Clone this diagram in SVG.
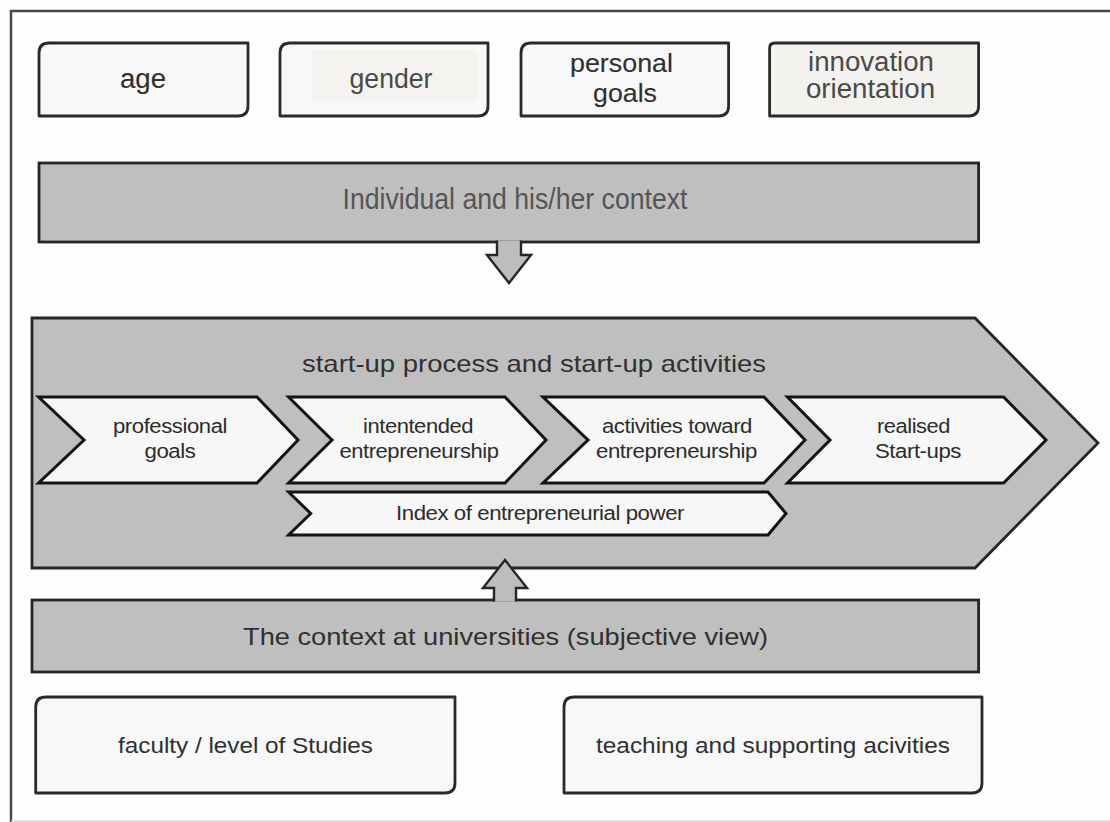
<svg xmlns="http://www.w3.org/2000/svg" width="1110" height="822" viewBox="0 0 1110 822">
  <style>
    .box { fill: #f8f8f8; stroke: #2a2a2a; stroke-width: 2.8; stroke-linejoin: round; }
    .bar { fill: #bfbfbf; stroke: #262626; stroke-width: 2.8; }
    .chev { fill: #f7f7f7; stroke: #141414; stroke-width: 3; stroke-linejoin: miter; }
    .arrow { fill: #bdbdbd; stroke: #262626; stroke-width: 2.4; stroke-linejoin: miter; }
    .t { font-family: "Liberation Sans", Arial, sans-serif; text-anchor: middle; fill: #303030; }
    .n { font-family: "Liberation Sans Narrow", "Liberation Sans", Arial, sans-serif; text-anchor: middle; fill: #4a4a4a; }
    .s { font-family: "Liberation Sans", Arial, sans-serif; text-anchor: middle; fill: #2c2c2c; font-size: 20px; letter-spacing: -0.4px; }
    .heavy { stroke: #3a3a3a; stroke-width: 0.15; }
  </style>

  <rect x="0" y="0" width="1110" height="822" fill="#fefefe"/>

  <!-- outer frame: left and top edges -->
  <path d="M11,822 V11 H1110" fill="none" stroke="#4a4a4a" stroke-width="2.5"/>
  <line x1="11" y1="821" x2="1110" y2="821" stroke="#d4d4d4" stroke-width="1.5"/>

  <!-- top row of factors -->
  <g id="age">
    <path class="box" d="M49,43 H248 V106 Q248,116 238,116 H39 V53 Q39,43 49,43 Z"/>
    <text class="t heavy" x="143" y="88" font-size="27" textLength="46" lengthAdjust="spacingAndGlyphs">age</text>
  </g>
  <g id="gender">
    <path class="box" d="M290,43 H488 V106 Q488,116 478,116 H280 V53 Q280,43 290,43 Z"/>
    <rect x="312" y="50" width="165" height="51" fill="#f4f3ef"/>
    <text class="n" x="391" y="88" font-size="28" textLength="83" lengthAdjust="spacingAndGlyphs">gender</text>
  </g>
  <g id="personal-goals">
    <path class="box" d="M531,43 H728.6 V106 Q728.6,116 718.6,116 H521 V53 Q521,43 531,43 Z"/>
    <text class="t heavy" x="621.5" y="72" font-size="26" textLength="103" lengthAdjust="spacingAndGlyphs">personal</text>
    <text class="t heavy" x="625" y="102" font-size="26" textLength="64" lengthAdjust="spacingAndGlyphs">goals</text>
  </g>
  <g id="innovation-orientation">
    <path class="box" style="fill:#f3f2ee" d="M775,43 H978.6 V106 Q978.6,116 968.6,116 H769.6 V48 Q769.6,43 775,43 Z"/>
    <text class="n" x="871" y="71" font-size="27" textLength="126" lengthAdjust="spacingAndGlyphs">innovation</text>
    <text class="n" x="870.5" y="98" font-size="27" textLength="129" lengthAdjust="spacingAndGlyphs">orientation</text>
  </g>

  <!-- individual context bar -->
  <g id="individual-context">
    <rect class="bar" x="39" y="163" width="939.6" height="79"/>
    <text class="n" x="515" y="209" font-size="29" style="fill:#555" textLength="345" lengthAdjust="spacingAndGlyphs">Individual and his/her context</text>
  </g>

  <!-- start-up process -->
  <g id="startup-process">
    <path class="bar" d="M32,318 L975,318 L1098,443 L975,568 L32,568 Z"/>
    <text class="t" x="534" y="372" font-size="24" textLength="464" lengthAdjust="spacingAndGlyphs">start-up process and start-up activities</text>
  </g>

  <g id="professional-goals">
    <path class="chev" d="M38.6,397 L257,397 L298,440 L257,483 L38.6,483 L84,440 Z"/>
    <text class="s" x="170" y="433" textLength="114" lengthAdjust="spacingAndGlyphs">professional</text>
    <text class="s" x="170" y="458" textLength="51" lengthAdjust="spacingAndGlyphs">goals</text>
  </g>
  <g id="intended-entrepreneurship">
    <path class="chev" d="M288.6,397 L505,397 L546,440 L505,483 L288.6,483 L332,440 Z"/>
    <text class="s" x="418" y="433" textLength="110" lengthAdjust="spacingAndGlyphs">intentended</text>
    <text class="s" x="419" y="458" textLength="159" lengthAdjust="spacingAndGlyphs">entrepreneurship</text>
  </g>
  <g id="activities-toward">
    <path class="chev" d="M543,397 L764,397 L805,440 L764,483 L543,483 L588,440 Z"/>
    <text class="s" x="677" y="433" textLength="150" lengthAdjust="spacingAndGlyphs">activities toward</text>
    <text class="s" x="676.5" y="458" textLength="161" lengthAdjust="spacingAndGlyphs">entrepreneurship</text>
  </g>
  <g id="realised-startups">
    <path class="chev" d="M787.5,397 L1003.6,397 L1046,440 L1003.6,483 L787.5,483 L830,440 Z"/>
    <text class="s" x="913.5" y="433" textLength="73" lengthAdjust="spacingAndGlyphs">realised</text>
    <text class="s" x="918" y="458" textLength="86" lengthAdjust="spacingAndGlyphs">Start-ups</text>
  </g>
  <g id="entrepreneurial-power">
    <path class="chev" d="M288.6,492 L768,492 L786,513.5 L768,535 L288.6,535 L310.7,513.5 Z"/>
    <text class="s" x="540" y="520" textLength="288" lengthAdjust="spacingAndGlyphs">Index of entrepreneurial power</text>
  </g>

  <!-- university context bar -->
  <g id="university-context">
    <rect class="bar" x="32" y="600" width="946.6" height="72"/>
    <text class="t" x="505.5" y="645" font-size="24" textLength="525" lengthAdjust="spacingAndGlyphs">The context at universities (subjective view)</text>
  </g>

  <!-- university factors -->
  <g id="faculty-level">
    <path class="box" d="M46,697 H455 V783 Q455,793 445,793 H35.7 V707 Q35.7,697 46,697 Z"/>
    <text class="t" x="245.5" y="753" font-size="22" textLength="255" lengthAdjust="spacingAndGlyphs">faculty / level of Studies</text>
  </g>
  <g id="teaching-support">
    <path class="box" d="M574,697 H982 V783 Q982,793 972,793 H564 V707 Q564,697 574,697 Z"/>
    <text class="t" x="773" y="753" font-size="22" textLength="354" lengthAdjust="spacingAndGlyphs">teaching and supporting acivities</text>
  </g>

  <!-- block arrows between the layers -->
  <g id="connectors">
    <path class="arrow" d="M497,240.5 V255 H487 L509,283 L531,255 H521 V240.5"/>
    <path class="arrow" d="M494,601.5 V588 H483 L505,560 L527,588 H516 V601.5"/>
  </g>
</svg>
